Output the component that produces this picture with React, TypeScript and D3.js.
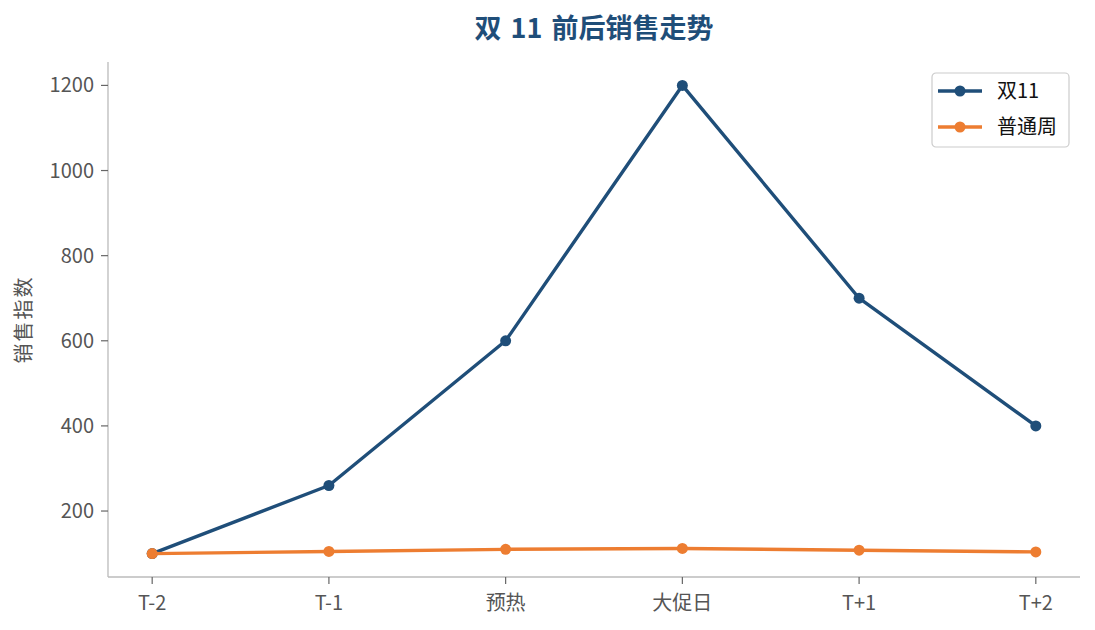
import { useEffect, useRef } from "react"
import * as d3 from "d3"

// categories and series
const categories = ["T-2", "T-1", "预热", "大促日", "T+1", "T+2"]
const double11 = [100, 260, 600, 1200, 700, 400]
const normalWeek = [100, 105, 110, 112, 108, 104]
const yTicks = [200, 400, 600, 800, 1000, 1200]
const seriesNames = ["双11", "普通周"]
const seriesColors = ["#1f4e79", "#ed7d31"]

const FONT = "'Noto Sans CJK SC', 'Noto Sans', sans-serif"

export default function App() {
  const svgRef = useRef<SVGSVGElement>(null)

  useEffect(() => {
    if (!svgRef.current) return
    const svg = d3.select(svgRef.current)
    svg.selectAll("*").remove()

    const margin = { top: 62, right: 15, bottom: 53, left: 108 }
    const W = 1095
    const H = 630
    const width = W - margin.left - margin.right
    const height = H - margin.top - margin.bottom

    const g = svg.append("g").attr("transform", `translate(${margin.left},${margin.top})`)

    // point scale with matplotlib-like 5% margins
    const n = categories.length
    const pad = (n - 1) * 0.05
    const xi = d3.scaleLinear().domain([-pad, n - 1 + pad]).range([0, width])
    const x = (i: number) => xi(i)

    const y = d3.scaleLinear().domain([45, 1255]).range([height, 0])

    // spines
    g.append("line")
      .attr("x1", 0).attr("x2", 0).attr("y1", 0).attr("y2", height)
      .attr("stroke", "#bbbbbb").attr("stroke-width", 1.3)
    g.append("line")
      .attr("x1", 0).attr("x2", width).attr("y1", height).attr("y2", height)
      .attr("stroke", "#bbbbbb").attr("stroke-width", 1.3)

    // y ticks
    const yAxis = g.append("g")
    yTicks.forEach((t) => {
      yAxis.append("line")
        .attr("x1", -7).attr("x2", 0).attr("y1", y(t)).attr("y2", y(t))
        .attr("stroke", "#666").attr("stroke-width", 1.2)
      yAxis.append("text")
        .attr("x", -14).attr("y", y(t)).attr("dy", "0.35em")
        .attr("text-anchor", "end")
        .style("font-family", FONT).style("font-size", "20px").attr("fill", "#555")
        .text(t)
    })

    // x ticks
    const xAxis = g.append("g")
    categories.forEach((c, i) => {
      xAxis.append("line")
        .attr("x1", x(i)).attr("x2", x(i)).attr("y1", height).attr("y2", height + 7)
        .attr("stroke", "#666").attr("stroke-width", 1.2)
      xAxis.append("text")
        .attr("x", x(i)).attr("y", height + 26).attr("dy", "0.35em")
        .attr("text-anchor", "middle")
        .style("font-family", FONT).style("font-size", "20px").attr("fill", "#555")
        .text(c)
    })

    // y label
    g.append("text")
      .attr("transform", `translate(${24 - margin.left},${height / 2}) rotate(-90)`)
      .attr("text-anchor", "middle").attr("dy", "0.35em")
      .style("font-family", FONT).style("font-size", "20px").style("letter-spacing", "2px")
      .attr("fill", "#555")
      .text("销售指数")

    // title
    svg.append("text")
      .attr("x", margin.left + width / 2).attr("y", 29).attr("dy", "0.35em")
      .attr("text-anchor", "middle")
      .style("font-family", FONT).style("font-size", "27px").style("font-weight", "bold")
      .style("word-spacing", "3px")
      .attr("fill", "#1f4e79")
      .text("双 11 前后销售走势")

    const line = d3.line<number>().x((_, i) => x(i)).y((d) => y(d))

    const series = [double11, normalWeek]
    series.forEach((vals, si) => {
      g.append("path")
        .datum(vals)
        .attr("fill", "none")
        .attr("stroke", seriesColors[si])
        .attr("stroke-width", 3.4)
        .attr("stroke-linejoin", "round")
        .attr("d", line)
      g.selectAll(`.dot-${si}`)
        .data(vals)
        .enter()
        .append("circle")
        .attr("class", `dot-${si}`)
        .attr("cx", (_, i) => x(i))
        .attr("cy", (d) => y(d))
        .attr("r", 5.5)
        .attr("fill", seriesColors[si])
    })

    // legend
    const legend = svg.append("g").attr("transform", "translate(932,73)")
    legend.append("rect")
      .attr("x", 0).attr("y", 0).attr("width", 137).attr("height", 74)
      .attr("rx", 4)
      .attr("fill", "white").attr("stroke", "#cccccc").attr("stroke-width", 1.2)
    seriesNames.forEach((name, i) => {
      const ly = 18 + i * 36
      legend.append("line")
        .attr("x1", 6).attr("x2", 50).attr("y1", ly).attr("y2", ly)
        .attr("stroke", seriesColors[i]).attr("stroke-width", 3.4)
      legend.append("circle")
        .attr("cx", 28).attr("cy", ly).attr("r", 5.5).attr("fill", seriesColors[i])
      legend.append("text")
        .attr("x", 65).attr("y", ly).attr("dy", "0.35em")
        .style("font-family", FONT).style("font-size", "20px").attr("fill", "#111")
        .text(name)
    })
  }, [])

  return (
    <svg
      ref={svgRef}
      width={1095}
      height={630}
      style={{ position: "absolute", left: 0, top: 0, background: "white" }}
    ></svg>
  )
}
